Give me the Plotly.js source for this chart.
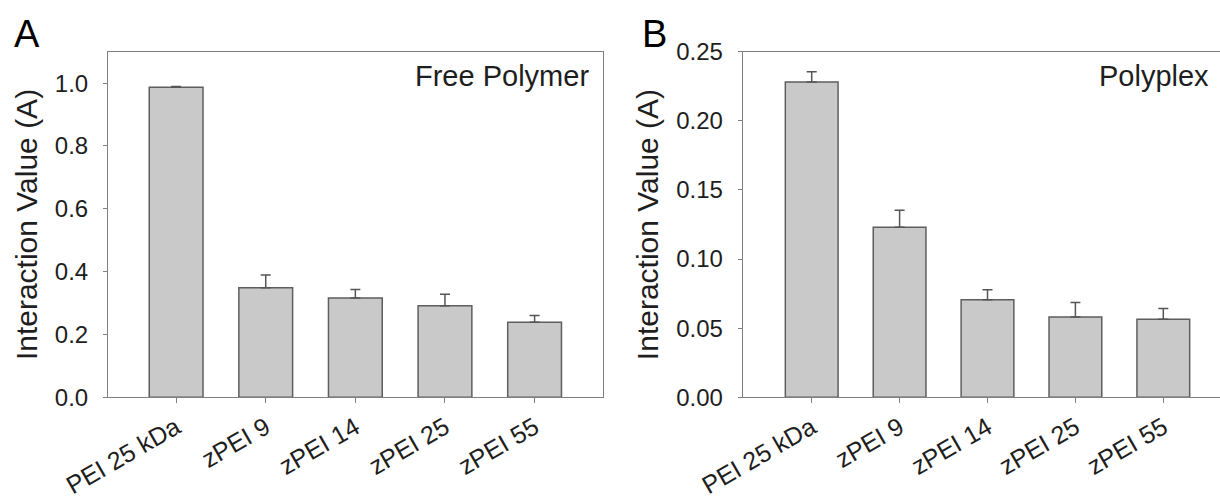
<!DOCTYPE html>
<html>
<head>
<meta charset="utf-8">
<script src="https://cdn.plot.ly/plotly-3.0.1.min.js"></script>
<style>
  html, body { margin: 0; padding: 0; background: #ffffff; overflow: hidden; }
  #chart { width: 1220px; height: 498px; }
</style>
</head>
<body>
<div id="chart"></div>
<script>
// ---- data ----
const categories = ['PEI 25 kDa', 'zPEI 9', 'zPEI 14', 'zPEI 25', 'zPEI 55'];
const freeValues = [0.987, 0.349, 0.316, 0.291, 0.239];
const freeErrors = [0.002, 0.040, 0.027, 0.037, 0.021];
const polyValues = [0.228, 0.123, 0.0705, 0.058, 0.0565];
const polyErrors = [0.0075, 0.0123, 0.0073, 0.0106, 0.0078];
const freeTicks = [0, 0.2, 0.4, 0.6, 0.8, 1.0];
const polyTicks = [0, 0.05, 0.10, 0.15, 0.20, 0.25];
const yTitle = 'Interaction Value (A)';
const panelA = 'A', panelB = 'B';
const labelA = 'Free Polymer', labelB = 'Polyplex';

const FONT = 'Liberation Sans, Arial, sans-serif';
const TXT = '#1e1e1e';
const LINE = '#7f7f7f';
const W = 1220, H = 498;
const px = v => v / W;
const py = v => (H - v) / H;

function barTrace(vals, errs, xa, ya) {
  return {
    type: 'bar', x: categories, y: vals, xaxis: xa, yaxis: ya,
    width: 0.6,
    marker: { color: '#c9c9c9', line: { color: '#5e5e5e', width: 1.5 } },
    error_y: { type: 'data', symmetric: false, array: errs, arrayminus: errs.map(() => 0),
               color: '#555555', thickness: 1.5, width: 5 },
    hoverinfo: 'skip', showlegend: false
  };
}

const data = [
  barTrace(freeValues, freeErrors, 'x', 'y'),
  barTrace(polyValues, polyErrors, 'x2', 'y2')
];

const commonX = {
  type: 'category', showline: true, linecolor: LINE, linewidth: 1,
  ticks: 'outside', ticklen: 5, tickcolor: LINE, tickwidth: 1,
  tickangle: -30, tickfont: { family: FONT, size: 25, color: TXT },
  ticklabelstandoff: 0,
  showgrid: false, zeroline: false, automargin: false, fixedrange: true
};
const commonY = {
  showline: true, linecolor: LINE, linewidth: 1,
  ticks: 'outside', ticklen: 4, tickcolor: LINE, tickwidth: 1,
  tickfont: { family: FONT, size: 24, color: TXT },
  showgrid: false, zeroline: false, automargin: false, fixedrange: true,
  ticklabelstandoff: 10,
  title: { text: yTitle, font: { family: FONT, size: 30, color: TXT }, standoff: 8 }
};

const layout = {
  width: W, height: H,
  margin: { l: 0, r: 0, t: 0, b: 0 },
  paper_bgcolor: '#ffffff', plot_bgcolor: '#ffffff',
  bargap: 0.4,
  xaxis: Object.assign({}, commonX, { domain: [px(108), px(602.7)], anchor: 'y', range: [-0.76, 4.76], mirror: true }),
  yaxis: Object.assign({}, commonY, { domain: [py(397.3), py(51.7)], anchor: 'x', range: [0, 1.1],
           tickvals: freeTicks, ticktext: freeTicks.map(v => v.toFixed(1)), mirror: true }),
  xaxis2: Object.assign({}, commonX, { domain: [px(742.7), 1], anchor: 'y2', range: [-0.785, 4.645], mirror: true }),
  yaxis2: Object.assign({}, commonY, { domain: [py(397.3), py(51.7)], anchor: 'x2', range: [0, 0.25],
           tickvals: polyTicks, ticktext: polyTicks.map(v => v.toFixed(2)), mirror: false }),
  annotations: [
    { text: panelA, xref: 'paper', yref: 'paper', x: px(27), y: py(34), xanchor: 'center', yanchor: 'middle',
      showarrow: false, font: { family: FONT, size: 38, color: '#000' } },
    { text: panelB, xref: 'paper', yref: 'paper', x: px(654), y: py(34), xanchor: 'center', yanchor: 'middle',
      showarrow: false, font: { family: FONT, size: 38, color: '#000' } },
    { text: labelA, xref: 'paper', yref: 'paper', x: px(591), y: py(76), xanchor: 'right', yanchor: 'middle',
      showarrow: false, font: { family: FONT, size: 29, color: TXT } },
    { text: labelB, xref: 'paper', yref: 'paper', x: px(1211), y: py(76), xanchor: 'right', yanchor: 'middle',
      showarrow: false, font: { family: FONT, size: 29, color: TXT } }
  ]
};

Plotly.newPlot('chart', data, layout, { displayModeBar: false, staticPlot: true });
</script>
</body>
</html>
